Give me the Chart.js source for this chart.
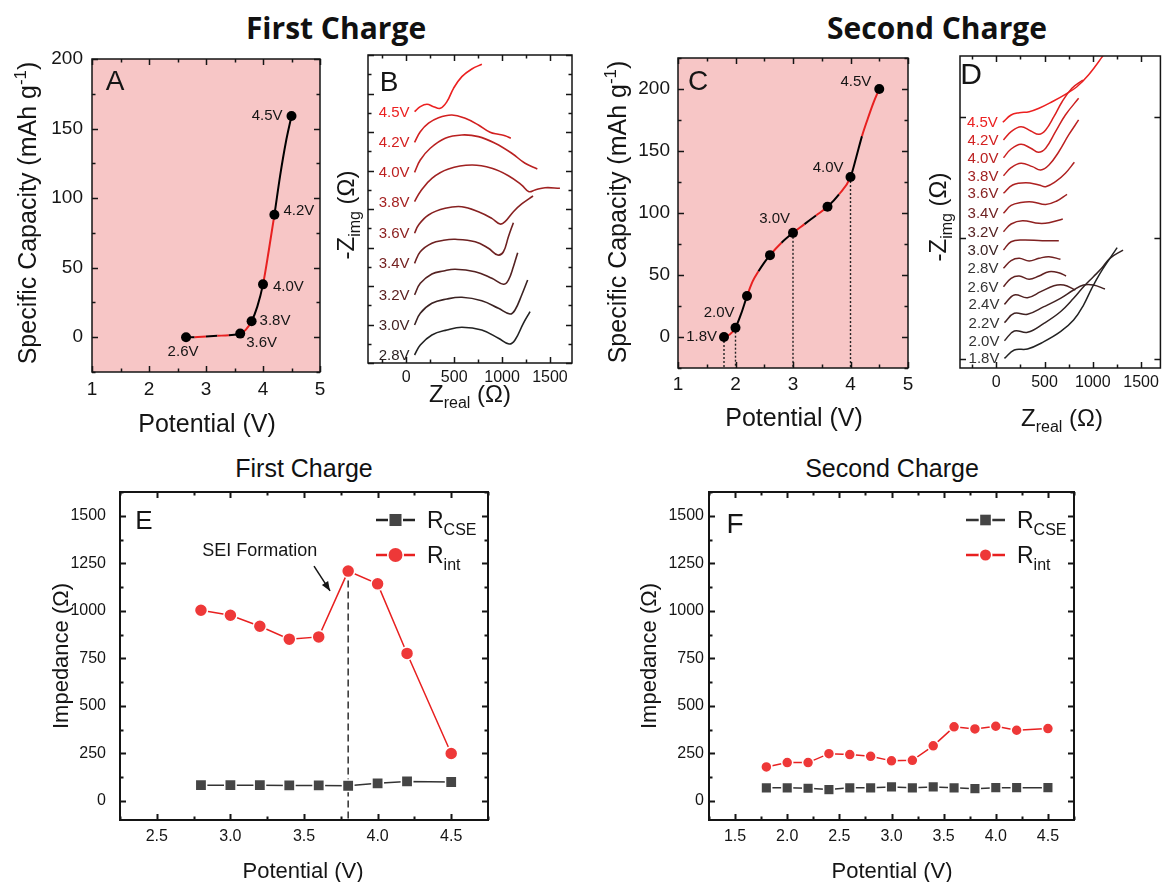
<!DOCTYPE html>
<html>
<head>
<meta charset="utf-8">
<title>Charge capacity and impedance</title>
<script src="https://cdn.jsdelivr.net/npm/chart.js@4.4.1/dist/chart.umd.min.js"></script>
<style>
  html, body { margin: 0; padding: 0; background: #fff; }
  #page { position: relative; width: 1164px; height: 882px; overflow: hidden; }
  #page canvas { position: absolute; left: 0; top: 0; }
  .head { position: absolute; transform: translate(-50%, -50%); white-space: nowrap; color: #111; }
  .big { font: bold 30px "Open Sans", sans-serif; top: 27px; }
  .small { font: 25px "Liberation Sans", Arial, sans-serif; top: 468px; }
</style>
</head>
<body>
<div id="page">
  <div class="head big" style="left:336px">First Charge</div>
  <div class="head big" style="left:937px">Second Charge</div>
  <div class="head small" style="left:304px">First Charge</div>
  <div class="head small" style="left:892px">Second Charge</div>
  <canvas id="cA" width="1164" height="882"></canvas>
  <canvas id="cB" width="1164" height="882"></canvas>
  <canvas id="cC" width="1164" height="882"></canvas>
  <canvas id="cD" width="1164" height="882"></canvas>
  <canvas id="cE" width="1164" height="882"></canvas>
  <canvas id="cF" width="1164" height="882"></canvas>
</div>
<script>
// ---- A: first charge, capacity vs potential ----
const aPot = [2.65, 2.8, 3.0, 3.2, 3.4, 3.6, 3.7, 3.8, 3.9, 4.0, 4.1, 4.2, 4.3, 4.4, 4.5];
const aCap = [0, 0, 0.5, 1, 1.5, 2.6, 5.5, 11.5, 22, 38, 62, 88, 116, 140, 159];
const aMarkPot = [2.65, 3.6, 3.8, 4.0, 4.2, 4.5];
const aMarkCap = [0, 2.6, 11.5, 38, 88, 159];
const aMarkText = ['2.6V', '3.6V', '3.8V', '4.0V', '4.2V', '4.5V'];
const aBreaks = [2.65, 2.8, 3.0, 3.2, 3.4, 3.6, 3.8, 4.0, 4.2];
const aXTicks = [1, 2, 3, 4, 5];
const aYTicks = [0, 50, 100, 150, 200];

// ---- C: second charge, capacity vs potential ----
const cPot = [1.8, 1.9, 2.0, 2.1, 2.2, 2.3, 2.4, 2.5, 2.6, 2.8, 3.0, 3.2, 3.4, 3.6, 3.8, 4.0, 4.1, 4.2, 4.3, 4.4, 4.5];
const cCap = [0, 2, 7.5, 19, 33, 45, 53, 60, 66, 76, 84, 91, 98, 105, 115, 129, 145, 162, 176, 189, 200];
const cMarkPot = [1.8, 2.0, 2.2, 2.6, 3.0, 3.6, 4.0, 4.5];
const cMarkCap = [0, 7.5, 33, 66, 84, 105, 129, 200];
const cMarkText = ['1.8V', '2.0V', '', '', '3.0V', '', '4.0V', '4.5V'];
const cDropPot = [1.8, 2.0, 3.0, 4.0];
const cBreaks = [1.8, 2.0, 2.2, 2.4, 2.6, 2.8, 3.0, 3.2, 3.4, 3.6, 3.8, 4.0, 4.2];
const cXTicks = [1, 2, 3, 4, 5];
const cYTicks = [0, 50, 100, 150, 200];

// ---- B: first charge Nyquist curves, [Zreal, stacked -Zimg] ----
const bVolts = ['2.8V', '3.0V', '3.2V', '3.4V', '3.6V', '3.8V', '4.0V', '4.2V', '4.5V'];
const b28 = [[86, 83], [146, 187], [267, 291], [424, 343], [580, 371], [788, 343], [962, 257], [1073, 197], [1135, 239], [1222, 412], [1292, 533]];
const b30 = [[86, 395], [146, 516], [267, 620], [424, 665], [580, 683], [788, 647], [962, 568], [1083, 509], [1135, 551], [1205, 707], [1267, 862]];
const b32 = [[86, 707], [146, 828], [267, 925], [389, 956], [510, 974], [719, 949], [893, 880], [1014, 818], [1066, 862], [1118, 1001], [1163, 1146]];
const b34 = [[86, 1036], [146, 1156], [267, 1244], [389, 1275], [510, 1285], [719, 1260], [857, 1192], [955, 1122], [1014, 1156], [1066, 1312], [1118, 1458]];
const b36 = [[86, 1348], [128, 1434], [232, 1538], [406, 1607], [580, 1624], [753, 1572], [893, 1503], [979, 1444], [1031, 1468], [1118, 1572], [1205, 1652], [1323, 1735]];
const b38 = [[86, 1676], [146, 1780], [267, 1919], [440, 2016], [684, 2057], [893, 2023], [1066, 1946], [1205, 1849], [1281, 1780], [1344, 1798], [1448, 1821], [1604, 1815]];
const b40 = [[86, 1981], [146, 2109], [250, 2231], [406, 2335], [580, 2369], [753, 2352], [927, 2283], [1101, 2179], [1240, 2075], [1368, 2016]];
const b42 = [[86, 2293], [146, 2403], [232, 2491], [336, 2549], [476, 2577], [615, 2542], [753, 2473], [875, 2397], [961, 2376], [1031, 2362], [1091, 2335]];
const b45 = [[86, 2611], [146, 2663], [216, 2688], [284, 2663], [354, 2646], [424, 2715], [493, 2854], [580, 2975], [684, 3055], [789, 3104]];
const bCurves = [b28, b30, b32, b34, b36, b38, b40, b42, b45];
const bXTicks = [0, 500, 1000, 1500];
const bYTicks = [0, 400, 800, 1200, 1600, 2000, 2400, 2800, 3200];

// ---- D: second charge Nyquist curves ----
const dVolts = ['1.8V', '2.0V', '2.2V', '2.4V', '2.6V', '2.8V', '3.0V', '3.2V', '3.4V', '3.6V', '3.8V', '4.0V', '4.2V', '4.5V'];
const d18 = [[85, 99], [187, 185], [324, 195], [494, 270], [665, 372], [801, 492], [904, 646], [989, 817], [1075, 971], [1177, 1125], [1252, 1234]];
const d20 = [[85, 280], [187, 379], [324, 366], [494, 458], [665, 577], [801, 715], [904, 834], [1006, 936], [1091, 1022], [1177, 1125], [1313, 1210]];
const d22 = [[85, 465], [187, 561], [324, 551], [494, 629], [665, 715], [801, 800], [904, 851], [1006, 851], [1126, 810]];
const d24 = [[85, 653], [187, 749], [324, 721], [461, 783], [597, 844], [699, 851], [819, 800]];
const d26 = [[75, 834], [154, 920], [238, 944], [341, 910], [443, 944], [546, 988], [648, 977], [723, 944]];
const d28 = [[75, 1023], [154, 1101], [238, 1125], [341, 1097], [443, 1125], [546, 1142], [665, 1115]];
const d30 = [[75, 1210], [154, 1295], [272, 1313], [477, 1306], [648, 1306]];
const d32 = [[75, 1398], [154, 1477], [272, 1511], [443, 1484], [546, 1490], [689, 1528]];
const d34 = [[75, 1587], [154, 1667], [256, 1697], [375, 1703], [512, 1677], [627, 1713], [733, 1782]];
const d36 = [[75, 1792], [170, 1877], [307, 1900], [443, 1877], [512, 1860], [614, 1911], [716, 1997], [809, 2110]];
const d38 = [[75, 1972], [154, 2054], [256, 2100], [375, 2065], [461, 2031], [546, 2082], [648, 2218], [750, 2390], [853, 2544]];
const d40 = [[75, 2157], [154, 2246], [256, 2295], [358, 2254], [436, 2213], [512, 2254], [614, 2424], [716, 2595], [853, 2766]];
const d42 = [[75, 2338], [154, 2424], [256, 2475], [358, 2431], [443, 2397], [512, 2441], [597, 2577], [682, 2731], [784, 2869], [897, 2954]];
const d45 = [[68, 2520], [154, 2595], [238, 2618], [341, 2629], [443, 2664], [579, 2731], [716, 2807], [835, 2885], [955, 3005], [1091, 3183], [1125, 3240]];
const dCurves = [d18, d20, d22, d24, d26, d28, d30, d32, d34, d36, d38, d40, d42, d45];
const dXTicks = [0, 500, 1000, 1500];
const dYTicks = [90, 1330, 2570];

// ---- E / F: fitted resistances ----
const ePot = [2.8, 3.0, 3.2, 3.4, 3.6, 3.8, 4.0, 4.2, 4.5];
const eRcse = [83, 83, 83, 82, 82, 80, 93, 103, 100];
const eRint = [1003, 977, 919, 851, 863, 1209, 1142, 776, 250];
const fPot = [1.8, 2.0, 2.2, 2.4, 2.6, 2.8, 3.0, 3.2, 3.4, 3.6, 3.8, 4.0, 4.2, 4.5];
const fRcse = [69, 69, 67, 60, 69, 69, 74, 69, 74, 69, 65, 70, 70, 70];
const fRint = [179, 202, 202, 249, 244, 235, 211, 214, 290, 390, 379, 393, 372, 381];
const eXTicks = [2.5, 3.0, 3.5, 4.0, 4.5];
const fXTicks = [1.5, 2.0, 2.5, 3.0, 3.5, 4.0, 4.5];
const impTicks = [0, 250, 500, 750, 1000, 1250, 1500];

const W = 1164, H = 882;
const SANS = '"Liberation Sans", Arial, sans-serif';
const INK = '#151515';
const PINK = '#f7c6c6';
const RED = '#e82020';

function pts(xs, ys) {
    return xs.map((x, i) => ({ x: x, y: ys[i] }));
}

// black -> red ramp for the stacked spectra
function ramp(t) {
    t = Math.max(0, Math.min(1, t));
    const r = Math.round(34 + (236 - 34) * t);
    const g = Math.round(34 - 2 * t);
    return `rgb(${r},${g},${g})`;
}

function segColor(breaks, first, second) {
    return ctx => {
        const x0 = ctx.p0.parsed.x;
        let k = -1;
        breaks.forEach(b => { if (x0 >= b - 1e-6) k++; });
        return k % 2 === 0 ? first : second;
    };
}

function minorOf(majors, min, max) {
    if (majors.length < 2) return [];
    const h = (majors[1] - majors[0]) / 2;
    const out = [];
    for (let v = majors[0] - h; v >= min - 1e-9; v -= 2 * h) out.push(v);
    majors.forEach(m => out.push(m + h));
    return out.filter(v => v >= min - 1e-9 && v <= max + 1e-9);
}

// text with sub / superscript pieces, centred (or left aligned) on x,y
function rich(ctx, parts, x, y, size, opt) {
    opt = opt || {};
    ctx.save();
    ctx.translate(x, y);
    if (opt.rotate) ctx.rotate(-Math.PI / 2);
    ctx.fillStyle = opt.color || INK;
    ctx.textBaseline = 'alphabetic';
    ctx.textAlign = 'left';
    const fonts = parts.map(p => (p[1] ? Math.round(size * 0.68) : size) + 'px ' + SANS);
    const widths = [];
    let total = 0;
    parts.forEach((p, i) => {
        ctx.font = fonts[i];
        const w = ctx.measureText(p[0]).width;
        widths.push(w);
        total += w;
    });
    let cx = opt.align === 'left' ? 0 : -total / 2;
    const base = size * 0.36;
    parts.forEach((p, i) => {
        ctx.font = fonts[i];
        const dy = p[1] === 'sub' ? size * 0.28 : p[1] === 'sup' ? -size * 0.42 : 0;
        ctx.fillText(p[0], cx, base + dy);
        cx += widths[i];
    });
    ctx.restore();
}

function arrow(ctx, x1, y1, x2, y2) {
    ctx.beginPath();
    ctx.moveTo(x1, y1);
    ctx.lineTo(x2, y2);
    ctx.stroke();
    const a = Math.atan2(y2 - y1, x2 - x1), L = 10;
    ctx.beginPath();
    ctx.moveTo(x2, y2);
    ctx.lineTo(x2 - L * Math.cos(a - 0.38), y2 - L * Math.sin(a - 0.38));
    ctx.lineTo(x2 - L * Math.cos(a + 0.38), y2 - L * Math.sin(a + 0.38));
    ctx.closePath();
    ctx.fill();
}

// box with inward ticks on all four sides
function makeFrame(fr) {
    return {
        id: 'frame',
        afterDatasetsDraw(chart) {
            const { ctx, chartArea: a } = chart;
            const sx = chart.scales.x, sy = chart.scales.y;
            const maj = 6, mnr = 3.5;
            const xMin = fr.minorX ? minorOf(fr.xTicks, sx.min, sx.max) : [];
            const yMin = fr.minorY ? minorOf(fr.yTicks, sy.min, sy.max) : [];
            ctx.save();
            ctx.strokeStyle = INK;
            ctx.lineWidth = fr.lw;
            ctx.setLineDash([]);
            ctx.beginPath();
            const xTick = (v, len) => {
                const p = Math.round(sx.getPixelForValue(v)) + 0.5;
                ctx.moveTo(p, a.bottom); ctx.lineTo(p, a.bottom - len);
                ctx.moveTo(p, a.top); ctx.lineTo(p, a.top + len);
            };
            const yTick = (v, len) => {
                const p = Math.round(sy.getPixelForValue(v)) + 0.5;
                ctx.moveTo(a.left, p); ctx.lineTo(a.left + len, p);
                ctx.moveTo(a.right, p); ctx.lineTo(a.right - len, p);
            };
            fr.xTicks.forEach(v => xTick(v, maj));
            xMin.forEach(v => xTick(v, mnr));
            fr.yTicks.forEach(v => yTick(v, maj));
            yMin.forEach(v => yTick(v, mnr));
            ctx.stroke();
            ctx.strokeRect(a.left, a.top, a.right - a.left, a.bottom - a.top);
            ctx.restore();
        }
    };
}

function axis(min, max, ticks, size, pad, show, fmt) {
    return {
        type: 'linear', min: min, max: max,
        grid: { display: false, drawTicks: false },
        border: { display: false },
        ticks: {
            display: show, color: INK, padding: pad, autoSkip: false, maxRotation: 0,
            font: { family: SANS, size: size },
            callback: fmt || (v => String(v))
        },
        afterBuildTicks: s => { s.ticks = ticks.map(v => ({ value: v })); }
    };
}

function decor(key, spec) {
    return {
        id: 'decor' + key,
        beforeDatasetsDraw(chart) {
            if (spec.under) spec.under(chart);
        },
        afterDraw(chart) {
            const ctx = chart.ctx;
            rich(ctx, spec.xTitle, spec.xAt[0], spec.xAt[1], spec.tSize);
            rich(ctx, spec.yTitle, spec.yAt[0], spec.yAt[1], spec.tSize, { rotate: true });
            ctx.save();
            ctx.font = spec.letterSize + 'px ' + SANS;
            ctx.fillStyle = INK;
            ctx.textAlign = 'center';
            ctx.textBaseline = 'middle';
            ctx.fillText(key, spec.letterAt[0], spec.letterAt[1]);
            ctx.restore();
            if (spec.over) spec.over(chart);
        }
    };
}

function panel(id, area, yw, xh, xs, ys, datasets, extra, fr) {
    xs.afterFit = s => { s.height = xh; };
    ys.afterFit = s => { s.width = yw; };
    return new Chart(document.getElementById(id), {
        type: 'scatter',
        data: { datasets: datasets },
        options: {
            responsive: false, animation: false, events: [],
            layout: { padding: { left: area[0] - yw, top: area[1], right: W - area[2], bottom: H - area[3] - xh } },
            plugins: { legend: { display: false }, tooltip: { enabled: false } },
            scales: { x: xs, y: ys }
        },
        plugins: [makeFrame(fr), extra]
    });
}

function fillArea(chart, color) {
    const { ctx, chartArea: a } = chart;
    ctx.save();
    ctx.fillStyle = color;
    ctx.fillRect(a.left, a.top, a.right - a.left, a.bottom - a.top);
    ctx.restore();
}

function pointLabels(chart, xs, ys, texts, place, size) {
    const { ctx, scales: { x, y } } = chart;
    ctx.save();
    ctx.font = size + 'px ' + SANS;
    ctx.fillStyle = INK;
    ctx.textBaseline = 'middle';
    texts.forEach((t, i) => {
        if (!t) return;
        const p = place[i];
        ctx.textAlign = p[0];
        ctx.fillText(t, x.getPixelForValue(xs[i]) + p[1], y.getPixelForValue(ys[i]) + p[2]);
    });
    ctx.restore();
}

function curveLabels(chart, curves, volts, colorOf) {
    const { ctx, scales: { x, y } } = chart;
    ctx.save();
    ctx.font = '15px ' + SANS;
    ctx.textAlign = 'right';
    ctx.textBaseline = 'middle';
    curves.forEach((c, i) => {
        ctx.fillStyle = colorOf(i);
        ctx.fillText(volts[i], x.getPixelForValue(c[0][0]) - 5, y.getPixelForValue(c[0][1]) + 1);
    });
    ctx.restore();
}

function legendRow(ctx, x1, x2, y, color, lineColor, shape, r, label, textX) {
    ctx.save();
    ctx.strokeStyle = lineColor;
    ctx.lineWidth = 2.5;
    ctx.beginPath();
    ctx.moveTo(x1, y);
    ctx.lineTo(x2, y);
    ctx.stroke();
    ctx.fillStyle = '#fff';
    ctx.beginPath();
    const cx = (x1 + x2) / 2;
    if (shape === 'rect') {
        const s = r * Math.SQRT1_2;
        ctx.rect(cx - s - 1.5, y - s - 1.5, 2 * s + 3, 2 * s + 3);
        ctx.fill();
        ctx.fillStyle = color;
        ctx.fillRect(cx - s, y - s, 2 * s, 2 * s);
    } else {
        ctx.arc(cx, y, r + 1.5, 0, Math.PI * 2);
        ctx.fill();
        ctx.fillStyle = color;
        ctx.beginPath();
        ctx.arc(cx, y, r, 0, Math.PI * 2);
        ctx.fill();
    }
    ctx.restore();
    rich(ctx, label, textX, y, 23, { align: 'left' });
}

const capTitle = [['Specific Capacity (mAh g'], ['-1', 'sup'], [')']];
const potTitle = [['Potential (V)']];
const zrTitle = [['Z'], ['real', 'sub'], [' (\u03A9)']];
const ziTitle = [['-Z'], ['img', 'sub'], [' (\u03A9)']];
const impTitle = [['Impedance (\u03A9)']];
const cseLabel = [['R'], ['CSE', 'sub']];
const intLabel = [['R'], ['int', 'sub']];

// label placement: [align, dx, dy] in pixels from the marker
const aPlace = [['center', -3, 15], ['left', 6, 9], ['left', 8, 0], ['left', 10, 2], ['left', 9, -4], ['right', -9, 0]];
const cPlace = [['right', -7, 0], ['right', -1, -15], ['left', 0, 0], ['left', 0, 0], ['right', -3, -14], ['left', 0, 0], ['right', -7, -9], ['right', -8, -7]];

// ---- A ----
panel('cA', [92, 59, 320, 372], 50, 40,
    axis(1, 5, aXTicks, 19, 6, true),
    axis(-25, 200, aYTicks, 19, 9, true),
    [
        { data: pts(aMarkPot, aMarkCap), pointRadius: 5, pointBackgroundColor: '#000', pointBorderColor: '#000', borderWidth: 0 },
        { data: pts(aPot, aCap), showLine: true, pointRadius: 0, borderWidth: 2, cubicInterpolationMode: 'monotone',
          borderColor: '#000', segment: { borderColor: segColor(aBreaks, '#000', RED) } }
    ],
    decor('A', {
        xTitle: potTitle, xAt: [207, 423], yTitle: capTitle, yAt: [27, 213], tSize: 25,
        letterAt: [115, 82], letterSize: 28,
        under: ch => fillArea(ch, PINK),
        over: ch => pointLabels(ch, aMarkPot, aMarkCap, aMarkText, aPlace, 15)
    }),
    { xTicks: aXTicks, yTicks: aYTicks, minorX: true, minorY: true, lw: 1.5 });

// ---- B ----
panel('cB', [368, 55, 572, 363], 10, 30,
    axis(-400, 1730, bXTicks, 16, 5, true),
    axis(0, 3200, bYTicks, 16, 5, false),
    bCurves.map((c, i) => ({
        data: c.map(p => ({ x: p[0], y: p[1] })), showLine: true, pointRadius: 0,
        borderColor: ramp(i / (bCurves.length - 1)), borderWidth: 1.6, tension: 0.4
    })),
    decor('B', {
        xTitle: zrTitle, xAt: [470, 393], yTitle: ziTitle, yAt: [345, 215], tSize: 24,
        letterAt: [389, 83], letterSize: 28,
        over: ch => curveLabels(ch, bCurves, bVolts, i => ramp(0.05 + 0.95 * i / (bCurves.length - 1)))
    }),
    { xTicks: bXTicks, yTicks: bYTicks, minorX: true, minorY: true, lw: 1.5 });

// ---- C ----
panel('cC', [678, 58, 908, 368], 50, 40,
    axis(1, 5, cXTicks, 19, 5, true),
    axis(-25, 225, cYTicks, 19, 8, true),
    [
        { data: pts(cMarkPot, cMarkCap), pointRadius: 5, pointBackgroundColor: '#000', pointBorderColor: '#000', borderWidth: 0 },
        { data: pts(cPot, cCap), showLine: true, pointRadius: 0, borderWidth: 2, cubicInterpolationMode: 'monotone',
          borderColor: RED, segment: { borderColor: segColor(cBreaks, RED, '#000') } }
    ],
    decor('C', {
        xTitle: potTitle, xAt: [794, 417], yTitle: capTitle, yAt: [617, 212], tSize: 25,
        letterAt: [698, 82], letterSize: 28,
        under: ch => {
            fillArea(ch, PINK);
            const { ctx, scales: { x, y }, chartArea: a } = ch;
            ctx.save();
            ctx.strokeStyle = '#222';
            ctx.lineWidth = 1.4;
            ctx.setLineDash([2, 2]);
            cDropPot.forEach(v => {
                const px = x.getPixelForValue(v);
                const py = y.getPixelForValue(cMarkCap[cMarkPot.indexOf(v)]);
                ctx.beginPath();
                ctx.moveTo(px, py);
                ctx.lineTo(px, a.bottom);
                ctx.stroke();
            });
            ctx.restore();
        },
        over: ch => pointLabels(ch, cMarkPot, cMarkCap, cMarkText, cPlace, 15)
    }),
    { xTicks: cXTicks, yTicks: cYTicks, minorX: true, minorY: true, lw: 1.5 });

// ---- D ----
panel('cD', [960, 56, 1163, 368], 10, 30,
    axis(-375, 1700, dXTicks, 16, 5, true),
    axis(0, 3200, dYTicks, 16, 5, false),
    dCurves.map((c, i) => ({
        data: c.map(p => ({ x: p[0], y: p[1] })), showLine: true, pointRadius: 0,
        borderColor: ramp(i / (dCurves.length - 1)), borderWidth: 1.5, tension: 0.4
    })),
    decor('D', {
        xTitle: zrTitle, xAt: [1062, 417], yTitle: ziTitle, yAt: [937, 217], tSize: 24,
        letterAt: [971, 76], letterSize: 30,
        over: ch => curveLabels(ch, dCurves, dVolts, i => i <= 5 ? '#333' : ramp((i - 5) / 8))
    }),
    { xTicks: dXTicks, yTicks: dYTicks, minorX: true, minorY: false, lw: 1.5 });

// ---- E ----
const resFmt = v => v.toFixed(1);
panel('cE', [120, 492, 488, 820], 60, 40,
    axis(2.25, 4.75, eXTicks, 16, 7, true, resFmt),
    axis(-100, 1625, impTicks, 16, 14, true),
    [
        { data: pts(ePot, eRint), showLine: true, borderColor: RED, borderWidth: 1.5,
          pointStyle: 'circle', pointRadius: 6.5, pointBackgroundColor: '#ee3838', pointBorderColor: '#fff', pointBorderWidth: 1.5 },
        { data: pts(ePot, eRcse), showLine: true, borderColor: '#333', borderWidth: 1.5,
          pointStyle: 'rect', pointRadius: 8, pointBackgroundColor: '#454545', pointBorderColor: '#fff', pointBorderWidth: 1.5 }
    ],
    decor('E', {
        xTitle: potTitle, xAt: [303, 870], yTitle: impTitle, yAt: [60, 656], tSize: 22,
        letterAt: [144, 522], letterSize: 26,
        under: ch => {
            const { ctx, scales: { x, y } } = ch;
            ctx.save();
            ctx.strokeStyle = '#222';
            ctx.lineWidth = 1.4;
            ctx.setLineDash([7, 4]);
            ctx.beginPath();
            ctx.moveTo(x.getPixelForValue(3.8), y.getPixelForValue(1160));
            ctx.lineTo(x.getPixelForValue(3.8), y.getPixelForValue(-100));
            ctx.stroke();
            ctx.restore();
        },
        over: ch => {
            const { ctx, scales: { x, y } } = ch;
            ctx.save();
            ctx.font = '18px ' + SANS;
            ctx.fillStyle = INK;
            ctx.textAlign = 'center';
            ctx.textBaseline = 'middle';
            ctx.fillText('SEI Formation', x.getPixelForValue(3.2), y.getPixelForValue(1315));
            ctx.strokeStyle = INK;
            ctx.lineWidth = 1.5;
            arrow(ctx, x.getPixelForValue(3.568), y.getPixelForValue(1235), x.getPixelForValue(3.677), y.getPixelForValue(1105));
            ctx.restore();
            legendRow(ctx, 376, 415, 520, '#454545', '#222', 'rect', 8.5, cseLabel, 427);
            legendRow(ctx, 376, 415, 555, '#ee3838', RED, 'circle', 7, intLabel, 427);
        }
    }),
    { xTicks: eXTicks, yTicks: impTicks, minorX: true, minorY: true, lw: 2 });

// ---- F ----
panel('cF', [709, 492, 1074, 820], 60, 40,
    axis(1.25, 4.75, fXTicks, 16, 7, true, resFmt),
    axis(-100, 1625, impTicks, 16, 5, true),
    [
        { data: pts(fPot, fRint), showLine: true, borderColor: RED, borderWidth: 1.5,
          pointStyle: 'circle', pointRadius: 5.5, pointBackgroundColor: '#ee3838', pointBorderColor: '#fff', pointBorderWidth: 1.5 },
        { data: pts(fPot, fRcse), showLine: true, borderColor: '#333', borderWidth: 1.5,
          pointStyle: 'rect', pointRadius: 7.5, pointBackgroundColor: '#454545', pointBorderColor: '#fff', pointBorderWidth: 1.5 }
    ],
    decor('F', {
        xTitle: potTitle, xAt: [892, 870], yTitle: impTitle, yAt: [648, 656], tSize: 22,
        letterAt: [735, 525], letterSize: 28,
        over: ch => {
            const ctx = ch.ctx;
            legendRow(ctx, 966, 1005, 520, '#454545', '#333', 'rect', 7.5, cseLabel, 1017);
            legendRow(ctx, 966, 1005, 555, '#ee3838', RED, 'circle', 5.5, intLabel, 1017);
        }
    }),
    { xTicks: fXTicks, yTicks: impTicks, minorX: true, minorY: true, lw: 2 });
</script>
</body>
</html>
